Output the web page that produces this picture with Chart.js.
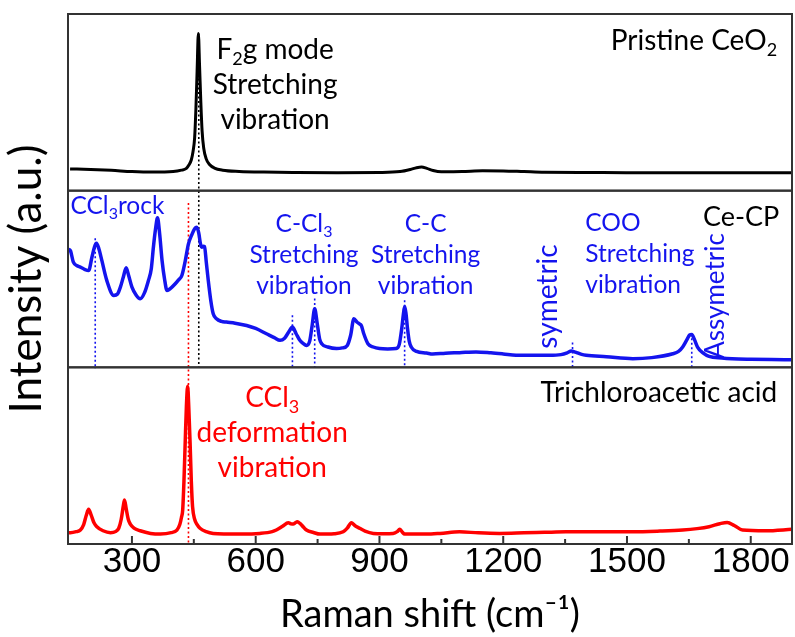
<!DOCTYPE html>
<html>
<head>
<meta charset="utf-8">
<script src="https://cdn.jsdelivr.net/npm/chart.js@4.4.1/dist/chart.umd.min.js"></script>
<style>html,body{margin:0;background:#fff}</style>
</head>
<body>
<canvas id="c" width="795" height="637"></canvas>
<script>
// x axis
const xTicks = [300, 600, 900, 1200, 1500, 1800];
const xMinor = [450, 750, 1050, 1350, 1650];

// Pristine CeO2 (top panel, 0-100 panel units)
const ceo2X = [150,200,250,300,350,400,420,432,438,444,448,452,455,458,461,464,467,470,474,480,488,500,520,560,620,700,800,900,950,975,990,1002,1015,1030,1050,1100,1150,1200,1250,1300,1400,1500,1600,1700,1800,1900];
const ceo2Y = [12.3,12.0,11.5,10.8,10.5,10.8,11.6,12.6,14.5,17.5,22,30,46,68,89,70,50,34,24,18,14.8,12.8,11.6,10.9,10.5,10.3,10.2,10.3,10.8,12,13,13.4,12.6,11.4,10.7,10.8,11.3,11.2,10.8,10.4,10.3,10.2,10.2,10.2,10.2,10.2];

// Ce-CP (middle panel)
const cecpX = [146,151,158,167,175,185,195,203,209,214,220,227,239,256,265,272,279,286,292,300,310,320,330,340,347,352,357,362,367,373,379,385,395,405,413,421,429,437,445,452,457,462,466,469,473,476,480,485,491,497,505,517,529,550,578,600,626,645,659,670,680,689,698,707,715,723,731,737,743,749,755,760,775,796,810,822,830,838,846,852,856,862,872,885,900,920,940,948,954,958,961,964,968,972,977,990,1014,1029,1060,1094,1134,1170,1200,1231,1270,1312,1340,1355,1365,1375,1390,1401,1450,1514,1560,1611,1625,1635,1645,1652,1657,1663,1671,1685,1699,1730,1755,1800,1850,1900];
const cecpY = [67,66,59.5,57.5,56.7,55.5,54.8,62.3,68,70.2,67,60.5,49.2,40.7,41.5,45.4,51,56.3,52,45.4,41,38.8,42,49.2,56,68,78,84.6,76,60.5,50,43.5,45,47.3,49.5,52,60,69.9,75,78.5,79.3,76,70,68,68.6,68.4,60,49.2,38,30.3,27.5,26,25.6,25,23.7,22,19,16.8,15.3,16.5,20,22.8,19,15.3,13.5,12.4,15,24,33.2,25,16,13.4,11.5,10.6,11,12.4,18,27.5,25.5,24.5,23.7,19,13.4,11.5,10.6,10.4,10.6,13,22,30,34.5,31,22,15,11.5,9,8.1,7.5,8,8.3,8.7,8.2,7.6,6.9,6.8,6.8,7.2,8.2,9.2,8.6,7.3,6.8,6,4.9,5.5,7.7,9,11.5,15.5,18.3,18.6,16,11.5,8,6.2,5.3,4.9,4.6,4.4,4.3];

// Trichloroacetic acid (bottom panel)
const tcaX = [146,151,165,175,183,189,195,201,208,215,230,248,260,268,274,279,282,286,291,296,305,320,345,369,395,409,416,420,423,426,429,432,435,438,441,444,447,452,458,465,480,497,530,569,610,640,650,665,679,686,691,696,701,708,716,723,740,756,790,812,822,832,840,852,865,885,910,933,943,949,955,961,990,1014,1047,1094,1140,1191,1250,1300,1352,1420,1513,1580,1635,1670,1699,1725,1743,1760,1780,1836,1900];
const tcaY = [6.4,6.4,7,7.9,11,16,19.6,16.5,12,9.8,7.5,6.4,7,8.9,14,21.5,24.9,20,14,11.3,9,7.5,6,5.6,6.4,7.9,11,15,19.2,35,56.9,78,89.3,76,56.9,35,21,14,11,8.9,7,6,5.7,5.6,6,7,7.9,10,12,11.4,11.3,12,12.6,11.5,9.5,7.9,6.5,5.6,5.8,6.9,9,12,10.5,8.9,7.3,6,5.8,6,7,8.3,6.8,5.6,5.7,5.6,6,6.9,6.3,6,6.3,6.6,6.9,6.9,6.9,7.3,7.9,8.7,9.8,11.5,12.2,10.5,7.9,7.5,8.3];

const BLUE = '#1414ee', RED = '#ff0000', FONT = 'Lato';

// dotted guide lines: x value, from [axis, value] to [axis, value]
const guides = [
  {x: 462, from: ['y1', 89], to: ['y2', 0], color: '#000'},
  {x: 437, from: ['y2', 93], to: ['y3', 0], color: RED},
  {x: 211, from: ['y2', 73], to: ['y2', -1], color: BLUE},
  {x: 689, from: ['y2', 29.5], to: ['y2', 0], color: BLUE},
  {x: 743, from: ['y2', 39], to: ['y2', 0], color: BLUE},
  {x: 961, from: ['y2', 38], to: ['y2', 0], color: BLUE},
  {x: 1368, from: ['y2', 14], to: ['y2', 0], color: BLUE},
  {x: 1657, from: ['y2', 19], to: ['y2', 0], color: BLUE}
];

// text notes, anchored in data units of each panel
const notes = [
  {axis: 'y1', x: 647, y: 74.4, lines: ['F_{2}g mode', 'Stretching', 'vibration'], color: '#000', size: 28, lh: 35, align: 'center'},
  {axis: 'y1', x: 1864, y: 79.5, lines: ['Pristine CeO_{2}'], color: '#000', size: 28, align: 'right'},
  {axis: 'y2', x: 151, y: 87, lines: ['CCl_{3}rock'], color: BLUE, size: 24.5, align: 'left'},
  {axis: 'y2', x: 717, y: 76.8, lines: ['C-Cl_{3}', 'Stretching', 'vibration'], color: BLUE, size: 24.5, lh: 31, align: 'center'},
  {axis: 'y2', x: 1012, y: 76.8, lines: ['C-C', 'Stretching', 'vibration'], color: BLUE, size: 24.5, lh: 31, align: 'center'},
  {axis: 'y2', x: 1399, y: 77.4, lines: ['COO', 'Stretching', 'vibration'], color: BLUE, size: 24.5, lh: 31, align: 'left'},
  {axis: 'y2', x: 1331, y: 40.1, lines: ['symetric'], color: BLUE, size: 28, align: 'center', rot: true},
  {axis: 'y2', x: 1735, y: 40.4, lines: ['Assymetric'], color: BLUE, size: 26, align: 'center', rot: true},
  {axis: 'y2', x: 1869, y: 80.2, lines: ['Ce-CP'], color: '#000', size: 27, align: 'right'},
  {axis: 'y3', x: 1864, y: 80.2, lines: ['Trichloroacetic acid'], color: '#000', size: 28, align: 'right'},
  {axis: 'y3', x: 640, y: 77.4, lines: ['CCl_{3}', 'deformation', 'vibration'], color: RED, size: 28, lh: 35, align: 'center'}
];

function drawRich(ctx, str, x, y, align, size) {
  const parts = str.split(/(_\{[^}]*\})/).filter(Boolean)
    .map(p => p.startsWith('_{') ? {t: p.slice(2, -1), sub: true} : {t: p, sub: false});
  const fN = size + 'px ' + FONT, fS = Math.round(size * 0.65) + 'px ' + FONT;
  let w = 0;
  parts.forEach(p => { ctx.font = p.sub ? fS : fN; p.w = ctx.measureText(p.t).width; w += p.w; });
  let cx = align === 'center' ? x - w / 2 : align === 'right' ? x - w : x;
  ctx.textAlign = 'left'; ctx.textBaseline = 'alphabetic';
  parts.forEach(p => { ctx.font = p.sub ? fS : fN; ctx.fillText(p.t, cx, p.sub ? y + size * 0.2 : y); cx += p.w; });
}

const decor = {
  id: 'decor',
  beforeDatasetsDraw(chart) {
    const {ctx, scales} = chart;
    ctx.save();
    ctx.lineWidth = 1.6; ctx.setLineDash([2, 2.5]);
    guides.forEach(g => {
      const px = scales.x.getPixelForValue(g.x);
      ctx.strokeStyle = g.color;
      ctx.beginPath();
      ctx.moveTo(px, scales[g.from[0]].getPixelForValue(g.from[1]));
      ctx.lineTo(px, scales[g.to[0]].getPixelForValue(g.to[1]));
      ctx.stroke();
    });
    ctx.restore();
  },
  afterDatasetsDraw(chart) {
    const {ctx, chartArea, scales} = chart;
    ctx.save();
    ctx.strokeStyle = '#333'; ctx.lineWidth = 2;
    ['y1', 'y2', 'y3'].forEach(id => {
      const s = scales[id];
      ctx.strokeRect(chartArea.left, s.top, chartArea.right - chartArea.left, s.bottom - s.top);
    });
    const yb = chartArea.bottom;
    ctx.beginPath();
    xTicks.forEach(v => { const px = scales.x.getPixelForValue(v); ctx.moveTo(px, yb); ctx.lineTo(px, yb - 8); });
    xMinor.forEach(v => { const px = scales.x.getPixelForValue(v); ctx.moveTo(px, yb); ctx.lineTo(px, yb - 5); });
    ctx.stroke();
    notes.forEach(n => {
      const px = scales.x.getPixelForValue(n.x), py = scales[n.axis].getPixelForValue(n.y);
      ctx.fillStyle = n.color;
      if (n.rot) {
        ctx.save(); ctx.translate(px, py); ctx.rotate(-Math.PI / 2);
        drawRich(ctx, n.lines[0], 0, 0, n.align, n.size);
        ctx.restore();
      } else {
        n.lines.forEach((l, i) => drawRich(ctx, l, px, py + i * (n.lh || 0), n.align, n.size));
      }
    });
    ctx.restore();
  }
};

const pts = (xs, ys) => xs.map((x, i) => ({x, y: ys[i]}));
const yAxis = (weight, extra) => Object.assign({
  type: 'linear', position: 'left', stack: 'panels', stackWeight: 1, weight,
  min: 0, max: 100, grid: {display: false}, border: {display: false}, ticks: {display: false},
  afterFit: s => { s.width = 68; }
}, extra);

new Chart(document.getElementById('c'), {
  type: 'line',
  data: {datasets: [
    {label: 'Pristine CeO2', data: pts(ceo2X, ceo2Y), yAxisID: 'y1', borderColor: '#000', borderWidth: 3},
    {label: 'Ce-CP', data: pts(cecpX, cecpY), yAxisID: 'y2', borderColor: BLUE, borderWidth: 3.5},
    {label: 'Trichloroacetic acid', data: pts(tcaX, tcaY), yAxisID: 'y3', borderColor: RED, borderWidth: 3.5}
  ]},
  options: {
    responsive: false, animation: false, devicePixelRatio: 1,
    layout: {padding: {top: 14, right: 3, left: 0, bottom: 0}},
    elements: {point: {radius: 0}, line: {cubicInterpolationMode: 'monotone'}},
    plugins: {legend: {display: false}, tooltip: {enabled: false}},
    scales: {
      x: {
        type: 'linear', min: 145, max: 1900,
        afterBuildTicks: s => { s.ticks = xTicks.map(v => ({value: v})); },
        grid: {display: false}, border: {display: false},
        ticks: {font: {family: 'Liberation Sans', size: 35, lineHeight: 0.6}, color: '#000', padding: 0, maxRotation: 0, autoSkip: false, callback: v => String(v)},
        title: {display: true, text: 'Raman shift (cm⁻¹)', font: {family: FONT, size: 38}, color: '#000', padding: {top: 0, bottom: -1}},
        afterFit: s => { s.height = 93; }
      },
      y1: yAxis(3),
      y2: yAxis(2, {title: {display: true, text: 'Intensity (a.u.)', font: {family: FONT, size: 44}, color: '#000', padding: {top: 0, bottom: 0}}}),
      y3: yAxis(1)
    }
  },
  plugins: [decor]
});
</script>
</body>
</html>
